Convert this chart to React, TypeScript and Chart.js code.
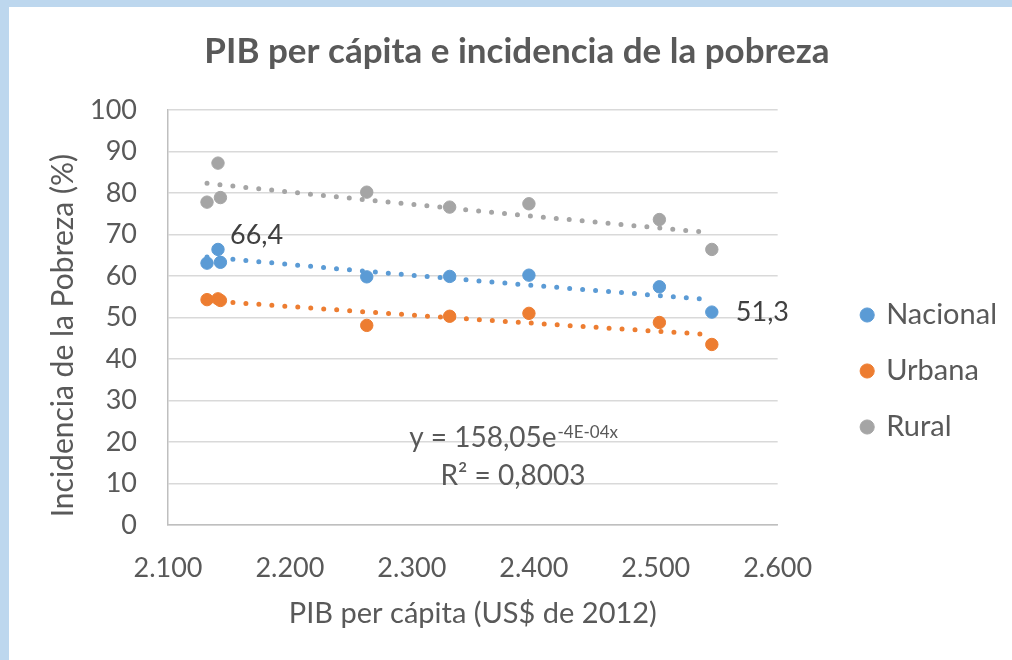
import React, { useEffect, useRef } from 'react';
import { Chart, registerables } from 'chart.js';

Chart.register(...registerables);

// ---- data ----
const gdpPerCapita = [2132, 2141, 2143, 2263, 2331, 2396, 2503, 2546];
const nacional = [63.1, 66.4, 63.3, 59.8, 59.9, 60.2, 57.4, 51.3];
const urbana = [54.3, 54.5, 54.1, 48.1, 50.3, 51.0, 48.8, 43.5];
const rural = [77.8, 87.2, 78.9, 80.2, 76.6, 77.4, 73.6, 66.4];
const seriesNames = ['Nacional', 'Urbana', 'Rural'];
const seriesValues = [nacional, urbana, rural];
const seriesColors = ['#5B9BD5', '#ED7D31', '#A5A5A5'];
const labeledNacionalIdx = [1, 7];
const xMin = 2100;
const xMax = 2600;
const xStep = 100;
const yMin = 0;
const yMax = 100;
const yStep = 10;
const titleText = 'PIB per cápita e incidencia de la pobreza';
const xTitle = 'PIB per cápita (US$ de 2012)';
const yTitle = ' Incidencia de la Pobreza (%)';
const eqMain = 'y = 158,05e';
const eqExp = '-4E-04x';
const r2Text = 'R² = 0,8003';
const eqAnchor = { x: 2383, y1: 21.2, y2: 12.0 };

const FONT = 'Lato';
const TEXT = '#595959';
const PAD_LEFT = 39;
const PAD_RIGHT = 17;

const fmtThousands = (v: number) => {
  const th = Math.floor(v / 1000);
  const rest = String(Math.round(v % 1000)).padStart(3, '0');
  return th > 0 ? `${th}.${rest}` : String(v);
};
const fmtDec = (v: number) => v.toFixed(1).replace('.', ',');

const fitExp = (xs: number[], ys: number[]) => {
  const n = xs.length;
  let sx = 0, sy = 0, sxx = 0, sxy = 0;
  for (let i = 0; i < n; i++) {
    const ly = Math.log(ys[i]);
    sx += xs[i]; sy += ly; sxx += xs[i] * xs[i]; sxy += xs[i] * ly;
  }
  const b = (n * sxy - sx * sy) / (n * sxx - sx * sx);
  const a = Math.exp((sy - b * sx) / n);
  return { a, b };
};

const trendPlugin = {
  id: 'trendlines',
  afterDatasetsDraw(chart: any) {
    const { ctx, scales } = chart;
    const xs = scales.x, ys = scales.y;
    const x0 = Math.min(...gdpPerCapita), x1 = Math.max(...gdpPerCapita);
    seriesValues.forEach((vals, i) => {
      const { a, b } = fitExp(gdpPerCapita, vals);
      const p0 = xs.getPixelForValue(x0), p1 = xs.getPixelForValue(x1);
      ctx.save();
      ctx.beginPath();
      for (let px = p0; px <= p1 + 0.01; px += 2) {
        const v = xs.getValueForPixel(px);
        const py = ys.getPixelForValue(a * Math.exp(b * v));
        if (px === p0) ctx.moveTo(px, py); else ctx.lineTo(px, py);
      }
      ctx.setLineDash([0, 13]);
      ctx.lineCap = 'round';
      ctx.lineWidth = 5;
      ctx.strokeStyle = seriesColors[i];
      ctx.stroke();
      ctx.restore();
    });
  },
  afterDraw(chart: any) {
    const { ctx, scales } = chart;
    const xs = scales.x, ys = scales.y;
    ctx.save();
    // data labels
    ctx.font = `27px ${FONT}`;
    ctx.fillStyle = '#404040';
    ctx.textBaseline = 'middle';
    ctx.textAlign = 'left';
    const offs = [[12, -14], [24, 0]];
    labeledNacionalIdx.forEach((idx, k) => {
      const px = xs.getPixelForValue(gdpPerCapita[idx]);
      const py = ys.getPixelForValue(nacional[idx]);
      ctx.fillText(fmtDec(nacional[idx]), px + offs[k][0], py + offs[k][1]);
    });
    // equation
    const cx = xs.getPixelForValue(eqAnchor.x);
    const yb1 = ys.getPixelForValue(eqAnchor.y1);
    const yb2 = ys.getPixelForValue(eqAnchor.y2);
    ctx.fillStyle = TEXT;
    ctx.textBaseline = 'alphabetic';
    ctx.font = `28px ${FONT}`;
    const w1 = ctx.measureText(eqMain).width;
    ctx.font = `17px ${FONT}`;
    const w2 = ctx.measureText(eqExp).width;
    const start = cx - (w1 + w2) / 2;
    ctx.font = `28px ${FONT}`;
    ctx.fillText(eqMain, start, yb1 + 10);
    ctx.font = `17px ${FONT}`;
    ctx.fillText(eqExp, start + w1 + 1, yb1 + 1);
    ctx.font = `28px ${FONT}`;
    ctx.textAlign = 'center';
    ctx.fillText(r2Text, cx, yb2 + 10);
    ctx.restore();
  },
};

export default function App() {
  const ref = useRef<HTMLCanvasElement>(null);
  useEffect(() => {
    if (!ref.current) return;
    const chart = new Chart(ref.current, {
      type: 'scatter',
      data: {
        datasets: seriesNames.map((name, i) => ({
          label: name,
          data: gdpPerCapita.map((g, j) => ({ x: g, y: seriesValues[i][j] })),
          backgroundColor: seriesColors[i],
          borderColor: seriesColors[i],
          borderWidth: 1,
          pointRadius: 6.2,
          pointHoverRadius: 6.2,
          pointStyle: 'circle',
        })),
      },
      plugins: [trendPlugin],
      options: {
        responsive: false,
        animation: false,
        events: [],
        layout: { padding: { left: PAD_LEFT, right: PAD_RIGHT, top: 0, bottom: 0 } },
        plugins: {
          tooltip: { enabled: false },
          title: {
            display: true,
            text: titleText,
            color: TEXT,
            font: { family: FONT, size: 35, weight: 'bold', lineHeight: 1.2 },
            padding: { top: 31, bottom: 37 },
          },
          legend: {
            display: true,
            position: 'right',
            align: 'center',
            title: { display: true, text: ' ', font: { size: 10, lineHeight: 1 }, padding: { top: 72, bottom: 0 } },
            labels: {
              usePointStyle: true,
              pointStyle: 'circle',
              boxWidth: 9,
              boxHeight: 10,
              padding: 27,
              color: TEXT,
              font: { family: FONT, size: 29 },
            },
          },
        },
        scales: {
          x: {
            type: 'linear',
            position: 'bottom',
            min: xMin,
            max: xMax,
            afterFit: (s: any) => { s.height = 135; },
            ticks: {
              stepSize: xStep,
              color: TEXT,
              padding: 27,
              font: { family: FONT, size: 27 },
              callback: (v: any) => fmtThousands(Number(v)),
              maxRotation: 0,
            },
            grid: { display: false, drawTicks: false },
            border: { display: true, color: '#BFBFBF', width: 1.5 },
            title: {
              display: true,
              text: xTitle,
              color: TEXT,
              font: { family: FONT, size: 29 },
              padding: { top: 0, bottom: 29 },
            },
          },
          y: {
            type: 'linear',
            position: 'left',
            min: yMin,
            max: yMax,
            afterFit: (s: any) => { s.width = 168 - PAD_LEFT; },
            ticks: {
              stepSize: yStep,
              color: TEXT,
              padding: 31,
              font: { family: FONT, size: 27 },
            },
            grid: { color: '#D9D9D9', lineWidth: 1.5, drawTicks: false },
            border: { display: true, color: '#BFBFBF', width: 1.5 },
            title: {
              display: true,
              text: yTitle,
              align: 'start',
              color: TEXT,
              font: { family: FONT, size: 30 },
              padding: { top: 6, bottom: 0 },
            },
          },
          spacer: {
            type: 'linear',
            position: 'right',
            display: true,
            afterFit: (s: any) => { s.width = 58; },
            ticks: { display: false },
            grid: { display: false, drawTicks: false },
            border: { display: false },
          },
        },
      } as any,
    });
    return () => chart.destroy();
  }, []);
  return (
    <div style={{ position: 'fixed', left: 0, top: 0, width: 1012, height: 660, background: '#FFFFFF', overflow: 'hidden' }}>
      <div style={{ position: 'absolute', left: 0, top: 0, width: 1012, height: 7, background: '#BDD7EE' }} />
      <div style={{ position: 'absolute', left: 0, top: 0, width: 9, height: 660, background: '#BDD7EE' }} />
      <canvas ref={ref} width={1012} height={660} style={{ position: 'absolute', left: 0, top: 0, width: 1012, height: 660 }} />
    </div>
  );
}
